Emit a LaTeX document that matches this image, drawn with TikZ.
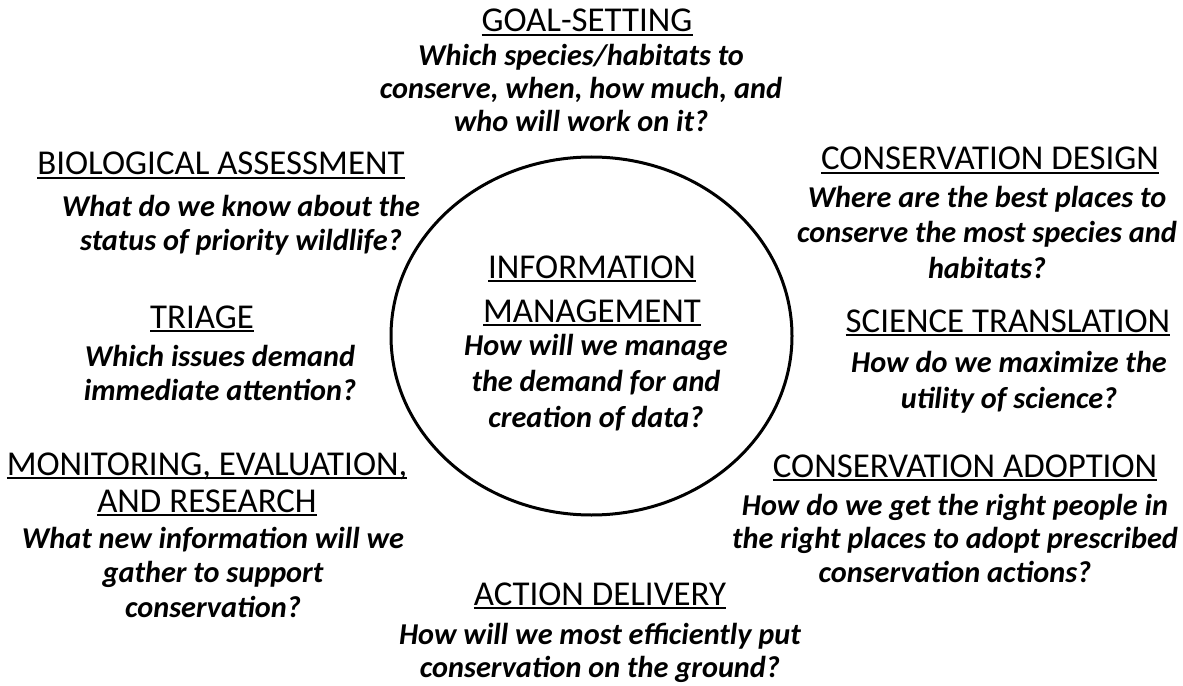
\documentclass[tikz,border=0pt]{standalone}
\usepackage{fontspec}
\setmainfont{Carlito}
\newsavebox\ulbox
\newcommand\ulh[1]{\sbox\ulbox{#1}\rlap{\rule[-4bp]{\wd\ulbox}{2bp}}\usebox\ulbox}
\begin{document}
\begin{tikzpicture}[x=1bp,y=-1bp,
  hd/.style={font=\fontsize{35}{40}\selectfont, align=center, inner sep=0pt, anchor=base},
  qs/.style={font=\fontsize{30.4}{34.5}\selectfont\bfseries\itshape, align=center, inner sep=0pt, anchor=base}]
\useasboundingbox (0,0) rectangle (1183,686);
\fill[white] (0,0) rectangle (1183,686);
\draw[line width=3bp] (591.5,336) ellipse [x radius=200.5, y radius=179];
\node[coordinate] (c) at (591.5,336) {};
% Goal-setting
\node[hd] (gh) at (587,32) {\ulh{GOAL-SETTING}};
\node[qs, font=\fontsize{30.4}{33.5}\selectfont\bfseries\itshape] (gq) at (581,132) {Which species/habitats to\\conserve, when, how much, and\\who will work on it?};
% Biological assessment
\node[hd] (bh) at (221,175) {\ulh{BIOLOGICAL ASSESSMENT}};
\node[qs, font=\fontsize{30.4}{33.5}\selectfont\bfseries\itshape] (bq) at (241,250) {What do we know about the\\status of priority wildlife?};
% Triage
\node[hd] (th) at (202,328) {\ulh{TRIAGE}};
\node[qs, font=\fontsize{30.4}{33.5}\selectfont\bfseries\itshape] (tq) at (220,400) {Which issues demand\\immediate attention?};
% Monitoring
\node[hd, font=\fontsize{35}{37}\selectfont] (mh) at (207,512) {\ulh{MONITORING, EVALUATION,}\\\ulh{AND RESEARCH}};
\node[qs] (mq) at (213,617) {What new information will we\\gather to support\\conservation?};
% Action delivery
\node[hd] (ah) at (600,605) {\ulh{ACTION DELIVERY}};
\node[qs, font=\fontsize{30.4}{32.5}\selectfont\bfseries\itshape] (aq) at (600,677) {How will we most efficiently put\\conservation on the ground?};
% Conservation adoption
\node[hd] (oh) at (965,477) {\ulh{CONSERVATION ADOPTION}};
\node[qs, font=\fontsize{30.4}{33.5}\selectfont\bfseries\itshape] (oq) at (955,582) {How do we get the right people in\\the right places to adopt prescribed\\conservation actions?};
% Science translation
\node[hd] (sh) at (1008,332) {\ulh{SCIENCE TRANSLATION}};
\node[qs, font=\fontsize{30.4}{36}\selectfont\bfseries\itshape] (sq) at (1009,408) {How do we maximize the\\utility of science?};
% Conservation design
\node[hd] (dh) at (990,170) {\ulh{CONSERVATION DESIGN}};
\node[qs, font=\fontsize{30.4}{35.5}\selectfont\bfseries\itshape] (dq) at (987,278) {Where are the best places to\\conserve the most species and\\habitats?};
% Information management
\node[hd, font=\fontsize{35}{44}\selectfont] (ih) at (592,322) {\ulh{INFORMATION}\\\ulh{MANAGEMENT}};
\node[qs, font=\fontsize{30.4}{36}\selectfont\bfseries\itshape] (iq) at (596,427) {How will we manage\\the demand for and\\creation of data?};
\end{tikzpicture}
\end{document}
